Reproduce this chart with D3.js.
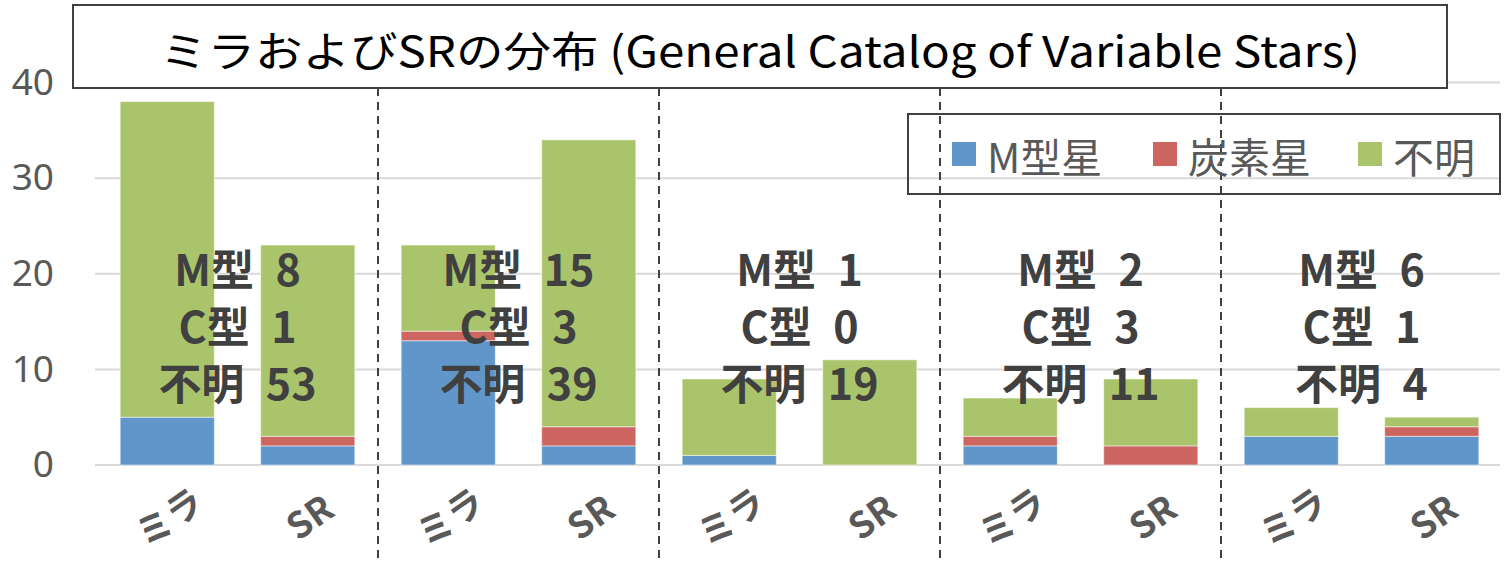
<!DOCTYPE html>
<html>
<head>
<meta charset="utf-8">
<script src="https://cdn.jsdelivr.net/npm/d3@7"></script>
<style>
  body { margin: 0; background: #fff; }
  svg { display: block; font-family: "Noto Sans CJK JP", "Noto Sans", sans-serif; }
</style>
</head>
<body>
<div id="chart"></div>
<script>
// data
const categories = ["ミラ", "SR", "ミラ", "SR", "ミラ", "SR", "ミラ", "SR", "ミラ", "SR"];
const seriesNames = ["M型星", "炭素星", "不明"];
const mType = [5, 2, 13, 2, 1, 0, 2, 0, 3, 3];
const cType = [0, 1, 1, 2, 0, 0, 1, 2, 0, 1];
const unknown = [33, 20, 9, 30, 8, 11, 4, 7, 3, 1];
const yTicks = [0, 10, 20, 30, 40];
const groupNotes = [
    ["M型 8", "C型 1", "不明 53"],
    ["M型 15", "C型 3", "不明 39"],
    ["M型 1", "C型 0", "不明 19"],
    ["M型 2", "C型 3", "不明 11"],
    ["M型 6", "C型 1", "不明 4"]
];
const title = "ミラおよびSRの分布 (General Catalog of Variable Stars)";

const colors = ["#6096C9", "#CD6661", "#AAC46B"];

const W = 1508, H = 561;
const svg = d3.select("#chart").append("svg")
    .attr("width", W)
    .attr("height", H);

const rows = categories.map((c, i) => ({key: i, cat: c, m: mType[i], c: cType[i], u: unknown[i]}));

const x = d3.scaleBand()
    .domain(rows.map(d => d.key))
    .range([97, 1502])
    .paddingInner(0.33)
    .paddingOuter(0.165);

const y = d3.scaleLinear()
    .domain([0, 40])
    .range([465, 82.5]);

// grid
svg.append("g").selectAll("line")
    .data(yTicks)
    .join("line")
    .attr("x1", 95).attr("x2", 1500)
    .attr("y1", d => y(d)).attr("y2", d => y(d))
    .attr("stroke", "#d9d9d9")
    .attr("stroke-width", 2);

// y axis labels
const yAxis = d3.axisLeft(y).tickValues(yTicks).tickSize(0).tickPadding(0);
svg.append("g")
    .attr("transform", "translate(54,0)")
    .call(yAxis)
    .call(g => g.select(".domain").remove())
    .selectAll("text")
    .attr("font-size", 37)
    .attr("font-family", "'Noto Sans', sans-serif")
    .attr("fill", "#595959");

// stacked bars
const stack = d3.stack().keys(["m", "c", "u"]);
const layers = stack(rows);

svg.append("g").selectAll("g")
    .data(layers)
    .join("g")
    .attr("fill", (d, i) => colors[i])
    .selectAll("rect")
    .data(d => d)
    .join("rect")
    .attr("x", d => x(d.data.key))
    .attr("width", x.bandwidth())
    .attr("y", d => y(d[1]))
    .attr("height", d => y(d[0]) - y(d[1]))
    .attr("stroke", "#fff")
    .attr("stroke-opacity", 0.5)
    .attr("stroke-width", 1);

// dashed group separators
const step = x.step();
const seps = d3.range(1, 5).map(g => x(g * 2) - (step - x.bandwidth()) / 2);
svg.append("g").selectAll("line")
    .data(seps)
    .join("line")
    .attr("x1", d => d).attr("x2", d => d)
    .attr("y1", 88).attr("y2", H)
    .attr("stroke", "#404040")
    .attr("stroke-width", 2)
    .attr("stroke-dasharray", "8,6");

// x labels, rotated
svg.append("g").selectAll("text")
    .data(rows)
    .join("text")
    .attr("transform", d => "translate(" + (x(d.key) + x.bandwidth() / 2 + 4) + ",520) rotate(-35)")
    .attr("text-anchor", "middle")
    .attr("dominant-baseline", "middle")
    .attr("font-size", 36)
    .attr("font-weight", "bold")
    .attr("fill", "#595959")
    .text(d => d.cat);

// group notes
const notes = svg.append("g");
groupNotes.forEach((lines, g) => {
    const cx = (x(g * 2) + x(g * 2 + 1) + x.bandwidth()) / 2;
    lines.forEach((t, k) => {
        notes.append("text")
            .attr("x", cx)
            .attr("y", 267 + k * 57)
            .attr("text-anchor", "middle")
            .attr("dominant-baseline", "central")
            .attr("font-size", 43)
            .attr("font-weight", "bold")
            .attr("fill", "#404040")
            .text(t.replace(" ", "\u2002"));
    });
});

// legend
const legend = svg.append("g");
legend.append("rect")
    .attr("x", 908).attr("y", 114)
    .attr("width", 592).attr("height", 80)
    .attr("fill", "none")
    .attr("stroke", "#404040")
    .attr("stroke-width", 2);
const legX = [952, 1153, 1358];
seriesNames.forEach((s, i) => {
    legend.append("rect")
        .attr("x", legX[i]).attr("y", 142)
        .attr("width", 24).attr("height", 24)
        .attr("fill", colors[i]);
    legend.append("text")
        .attr("x", legX[i] + 35).attr("y", 155)
        .attr("dominant-baseline", "central")
        .attr("font-size", 41)
        .attr("fill", "#595959")
        .text(s);
});

// title box
svg.append("rect")
    .attr("x", 73).attr("y", 5)
    .attr("width", 1374).attr("height", 83)
    .attr("fill", "#fff")
    .attr("stroke", "#404040")
    .attr("stroke-width", 2);
svg.append("text")
    .attr("x", 760).attr("y", 48)
    .attr("text-anchor", "middle")
    .attr("dominant-baseline", "central")
    .attr("font-size", 42)
    .attr("textLength", 1200)
    .attr("lengthAdjust", "spacingAndGlyphs")
    .attr("fill", "#000")
    .text(title);
</script>
</body>
</html>
